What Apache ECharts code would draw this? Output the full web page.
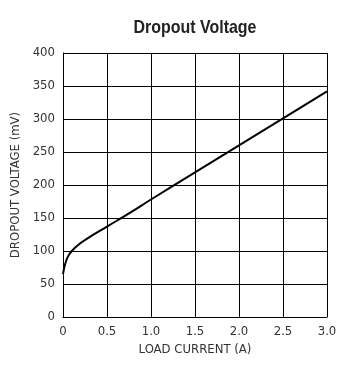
<!DOCTYPE html>
<html><head><meta charset="utf-8">
<script src="https://cdn.jsdelivr.net/npm/echarts@6/dist/echarts.min.js"></script>
<style>html,body{margin:0;padding:0;background:#fff}#c{width:359px;height:367px}</style>
</head><body><div id="c"></div>
<script>
const loadCurrent = [0, 0.01, 0.02, 0.05, 0.1, 0.2, 0.3, 0.5, 0.75, 1.0, 1.5, 2.0, 2.5, 3.0];
const dropoutMv   = [65, 72, 78, 90, 100, 112, 121, 137, 157, 178, 219, 260, 301, 342];
const xTicks = ['0','0.5','1.0','1.5','2.0','2.5','3.0'];

const chart = echarts.init(document.getElementById('c'));
const narrow = '"Liberation Sans Narrow","DejaVu Sans Condensed",Arial,sans-serif';
chart.setOption({
  animation: false,
  graphic: [{type: 'text', x: 195, y: 28, scaleX: 0.84,
    style: {text: 'Dropout Voltage', textAlign: 'center', textVerticalAlign: 'middle',
      font: 'bold 19px "Liberation Sans", Arial, sans-serif', fill: '#222'}}],
  grid: {left: 63, top: 53, width: 264, height: 264},
  xAxis: {type: 'value', min: 0, max: 3, interval: 0.5,
    name: 'LOAD CURRENT (A)', nameLocation: 'middle', nameGap: 24,
    nameTextStyle: {fontFamily: narrow, fontSize: 13, color: '#333'},
    axisLine: {lineStyle: {color: '#000', width: 1}}, axisTick: {show: false},
    axisLabel: {fontFamily: narrow, fontSize: 13, color: '#333', margin: 8,
      formatter: (v) => xTicks[Math.round(v / 0.5)]},
    splitLine: {show: true, lineStyle: {color: '#000', width: 1}}},
  yAxis: {type: 'value', min: 0, max: 400, interval: 50,
    name: 'DROPOUT VOLTAGE (mV)', nameLocation: 'middle', nameGap: 31,
    nameTextStyle: {fontFamily: narrow, fontSize: 13, color: '#333'},
    axisLine: {show: true, lineStyle: {color: '#000', width: 1}}, axisTick: {show: false},
    axisLabel: {fontFamily: narrow, fontSize: 13, color: '#333', margin: 8},
    splitLine: {show: true, lineStyle: {color: '#000', width: 1}}},
  series: [{type: 'line', data: loadCurrent.map((x, i) => [x, dropoutMv[i]]),
    smooth: 0.4, showSymbol: false, lineStyle: {color: '#000', width: 2}}]
});
</script></body></html>
